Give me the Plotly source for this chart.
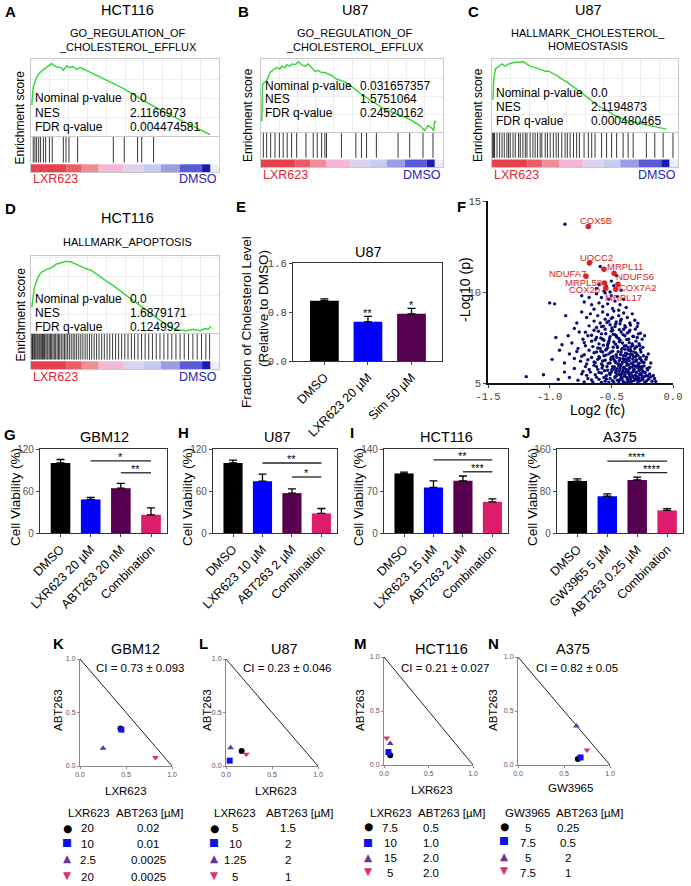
import plotly.graph_objects as go

W, H = 691, 886
FONT = 'Arial, Liberation Sans, sans-serif'
MONO = 'Liberation Mono, Courier New, monospace'

# ---------------- A-D: GSEA enrichment plots ----------------
gsea_cells = ['HCT116', 'U87', 'U87', 'HCT116']
gsea_sets = [['GO_REGULATION_OF', '_CHOLESTEROL_EFFLUX'],
             ['GO_REGULATION_OF', '_CHOLESTEROL_EFFLUX'],
             ['HALLMARK_CHOLESTEROL_', 'HOMEOSTASIS'],
             ['HALLMARK_APOPTOSIS']]
gsea_pval = ['0.0', '0.031657357', '0.0', '0.0']
gsea_nes = ['2.1166973', '1.5751064', '2.1194873', '1.6879171']
gsea_fdr = ['0.004474581', '0.24520162', '0.000480465', '0.124992']

rank_a = [0.004, 0.012, 0.030, 0.048, 0.066, 0.083, 0.101, 0.110, 0.119, 0.128, 0.140, 0.154, 0.163, 0.172,
          0.181, 0.190, 0.199, 0.207, 0.225, 0.243, 0.261, 0.367, 0.491, 0.598, 0.722, 0.828, 0.899, 0.952]
es_a = [0.41, 0.65, 0.78, 0.84, 0.88, 0.91, 0.95, 0.96, 0.94, 0.93, 0.91, 0.91, 0.90, 0.87,
        0.91, 0.93, 0.91, 0.91, 0.92, 0.88, 0.91, 0.78, 0.63, 0.47, 0.30, 0.17, 0.09, 0.02]
hits_a = [0.012, 0.021, 0.030, 0.041, 0.051, 0.066, 0.078, 0.098, 0.113, 0.172, 0.186, 0.202, 0.248,
          0.438, 0.496, 0.567, 0.589, 0.652]

rank_b = [0.004, 0.009, 0.031, 0.049, 0.059, 0.077, 0.086, 0.104, 0.113, 0.132, 0.141, 0.159, 0.168, 0.186,
          0.205, 0.223, 0.241, 0.260, 0.278, 0.296, 0.314, 0.333, 0.351, 0.369, 0.388, 0.415, 0.461, 0.506,
          0.561, 0.616, 0.671, 0.726, 0.762, 0.799, 0.835, 0.872, 0.899, 0.918, 0.936, 0.949, 0.954, 0.963]
es_b = [0.15, 0.67, 0.72, 0.83, 0.85, 0.88, 0.90, 0.88, 0.92, 0.90, 0.94, 0.92, 0.95, 0.94,
        0.98, 0.94, 0.92, 0.95, 0.90, 0.85, 0.86, 0.83, 0.83, 0.81, 0.79, 0.74, 0.70, 0.62,
        0.51, 0.42, 0.33, 0.27, 0.24, 0.20, 0.15, 0.09, 0.02, 0.09, 0.06, 0.02, 0.14, 0.15]
hits_b = [0.013, 0.031, 0.053, 0.077, 0.101, 0.122, 0.144, 0.168, 0.196, 0.247, 0.287, 0.309, 0.333,
          0.351, 0.360, 0.442, 0.521, 0.552, 0.580, 0.634, 0.753, 0.817, 0.890, 0.945]

rank_c = [0.005, 0.009, 0.018, 0.036, 0.054, 0.071, 0.089, 0.116, 0.143, 0.170, 0.188, 0.205, 0.232, 0.259,
          0.286, 0.304, 0.321, 0.348, 0.375, 0.402, 0.438, 0.473, 0.509, 0.545, 0.580, 0.616, 0.652, 0.688,
          0.723, 0.759, 0.795, 0.830, 0.866, 0.902, 0.920, 0.938]
es_c = [0.45, 0.72, 0.88, 0.92, 0.95, 0.92, 0.95, 0.97, 0.98, 0.98, 0.95, 0.92, 0.90, 0.88,
        0.85, 0.85, 0.83, 0.79, 0.74, 0.70, 0.63, 0.56, 0.49, 0.42, 0.35, 0.31, 0.24, 0.20,
        0.16, 0.14, 0.12, 0.10, 0.09, 0.07, 0.06, 0.04]
hits_c = [0.004, 0.007, 0.011, 0.014, 0.027, 0.041, 0.054, 0.066, 0.080, 0.089, 0.098, 0.113, 0.125,
          0.143, 0.152, 0.166, 0.179, 0.188, 0.205, 0.220, 0.232, 0.245, 0.259, 0.268, 0.286, 0.298,
          0.313, 0.330, 0.345, 0.357, 0.375, 0.393, 0.405, 0.420, 0.438, 0.455, 0.470, 0.495, 0.518,
          0.536, 0.554, 0.589, 0.616, 0.643, 0.670, 0.705, 0.732, 0.759, 0.830, 0.875, 0.920, 0.973]

rank_d = [0.004, 0.018, 0.036, 0.053, 0.080, 0.107, 0.133, 0.160, 0.187, 0.214, 0.240, 0.267, 0.294, 0.320,
          0.347, 0.374, 0.400, 0.436, 0.472, 0.507, 0.543, 0.578, 0.614, 0.649, 0.685, 0.721, 0.756, 0.792,
          0.827, 0.863, 0.899, 0.925, 0.943, 0.956]
es_d = [0.34, 0.60, 0.73, 0.80, 0.84, 0.86, 0.91, 0.93, 0.95, 0.94, 0.91, 0.88, 0.85, 0.83,
        0.78, 0.73, 0.69, 0.63, 0.56, 0.50, 0.43, 0.37, 0.30, 0.24, 0.17, 0.11, 0.06, 0.04,
        0.03, 0.05, 0.03, 0.06, 0.05, 0.09]
hits_d = [0.004, 0.008, 0.012, 0.018, 0.022, 0.027, 0.033, 0.038, 0.044, 0.049, 0.055, 0.061, 0.066,
          0.072, 0.079, 0.085, 0.090, 0.097, 0.104, 0.110, 0.117, 0.124, 0.131, 0.139, 0.146, 0.153,
          0.161, 0.170, 0.178, 0.186, 0.195, 0.204, 0.214, 0.224, 0.233, 0.243, 0.254, 0.265, 0.276,
          0.288, 0.299, 0.311, 0.323, 0.336, 0.349, 0.362, 0.376, 0.390, 0.405, 0.419, 0.434, 0.450,
          0.466, 0.482, 0.499, 0.516, 0.534, 0.551, 0.569, 0.588, 0.607, 0.626, 0.646, 0.666, 0.686,
          0.707, 0.728, 0.749, 0.771, 0.793, 0.815, 0.838, 0.861, 0.884, 0.907, 0.930, 0.950]

# ranked-list colour strip (LXR623 -> DMSO)
strip_edges = [0, 0.19, 0.27, 0.36, 0.49, 0.60, 0.69, 0.79, 0.91, 0.955, 1.0]
strip_colors = ['#e8414e', '#ec5c66', '#f08c94', '#f4b8d6', '#dcd2ee', '#c6cbf2',
                '#9c9ce6', '#5a5ad6', '#1a1ab4', '#eeeefa']

# ---------------- E: cholesterol ----------------
chol_cats = ['DMSO', 'LXR623 20 µM', 'Sim 50 µM']
chol_vals = [0.985, 0.64, 0.77]
chol_err = [0.03, 0.09, 0.09]
chol_stars = ['', '**', '*']

# ---------------- F: volcano ----------------
volcano_pts = [
    (-0.62, 9.9), (-0.58, 9.7), (-0.55, 9.95), (-0.52, 9.6), (-0.50, 9.8), (-0.47, 9.5), (-0.45, 9.75),
    (-0.60, 9.4), (-0.66, 9.3), (-0.57, 9.2), (-0.53, 9.35), (-0.49, 9.1), (-0.43, 9.3), (-0.40, 9.6),
    (-0.68, 9.7), (-0.72, 9.45), (-0.51, 10.0), (-0.56, 10.05), (-1.00, 9.4), (-0.96, 9.35), (-0.64, 9.05),
    (-0.44, 9.0), (-0.38, 9.15), (-0.876, 13.72), (-0.59, 11.4), (-0.60, 10.4), (-0.50, 10.6), (-0.46, 10.9),
    (-0.54, 10.3), (-0.62, 10.2), (-0.48, 10.35), (-0.74, 9.8), (-0.42, 10.1),
    (-0.87, 8.7), (-0.74, 8.9), (-0.70, 8.6), (-0.67, 8.8), (-0.64, 8.4), (-0.61, 8.7), (-0.59, 8.3),
    (-0.57, 8.9), (-0.55, 8.5), (-0.53, 8.75), (-0.51, 8.2), (-0.49, 8.6), (-0.48, 8.95), (-0.46, 8.35),
    (-0.44, 8.7), (-0.42, 8.5), (-0.40, 8.85), (-0.39, 8.15), (-0.37, 8.6), (-0.35, 8.3), (-0.33, 8.8),
    (-0.31, 8.45), (-0.62, 8.05), (-0.58, 8.1), (-0.52, 8.4), (-0.47, 8.1), (-0.43, 8.25), (-0.78, 8.3),
    (-0.80, 8.0), (-0.29, 8.1), (-0.50, 8.55),
    (-0.85, 7.6), (-0.82, 7.2), (-0.76, 7.8), (-0.73, 7.4), (-0.71, 7.05), (-0.69, 7.6), (-0.66, 7.3),
    (-0.64, 7.9), (-0.62, 7.5), (-0.60, 7.15), (-0.58, 7.7), (-0.56, 7.35), (-0.55, 7.95), (-0.53, 7.1),
    (-0.51, 7.55), (-0.50, 7.85), (-0.48, 7.25), (-0.47, 7.65), (-0.45, 7.0), (-0.44, 7.45), (-0.42, 7.8),
    (-0.41, 7.2), (-0.39, 7.6), (-0.38, 7.05), (-0.36, 7.4), (-0.35, 7.9), (-0.33, 7.15), (-0.32, 7.55),
    (-0.30, 7.3), (-0.28, 7.7), (-0.27, 7.05), (-0.25, 7.4), (-0.23, 7.6), (-0.90, 7.1), (-0.95, 7.5),
    (-0.65, 7.0), (-0.57, 7.4), (-0.49, 7.9), (-0.43, 7.35), (-0.37, 7.75), (-0.34, 7.0), (-0.29, 7.5),
    (-0.46, 7.6), (-0.40, 7.95), (-0.52, 7.3),
    (-0.98, 6.3), (-0.92, 6.8), (-0.88, 6.1), (-0.84, 6.6), (-0.80, 6.35), (-0.77, 6.9), (-0.75, 6.2),
    (-0.72, 6.55), (-0.70, 6.05), (-0.68, 6.8), (-0.66, 6.4), (-0.64, 6.15), (-0.62, 6.7), (-0.61, 6.3),
    (-0.59, 6.9), (-0.58, 6.05), (-0.56, 6.5), (-0.55, 6.25), (-0.54, 6.85), (-0.52, 6.6), (-0.51, 6.1),
    (-0.50, 6.4), (-0.49, 6.75), (-0.47, 6.2), (-0.46, 6.55), (-0.45, 6.95), (-0.44, 6.05), (-0.43, 6.35),
    (-0.42, 6.7), (-0.41, 6.15), (-0.40, 6.5), (-0.39, 6.85), (-0.38, 6.25), (-0.37, 6.6), (-0.36, 6.0),
    (-0.35, 6.4), (-0.34, 6.75), (-0.33, 6.1), (-0.32, 6.45), (-0.31, 6.9), (-0.30, 6.2), (-0.29, 6.55),
    (-0.28, 6.05), (-0.27, 6.35), (-0.26, 6.7), (-0.25, 6.15), (-0.24, 6.5), (-0.22, 6.3), (-0.20, 6.6),
    (-0.18, 6.1), (-0.48, 6.3), (-0.53, 6.95), (-0.57, 6.7), (-0.60, 6.45), (-0.41, 6.9), (-0.36, 6.8),
    (-0.33, 6.55), (-0.46, 6.1), (-0.39, 6.3), (-0.30, 6.65),
    (-1.19, 5.35), (-1.05, 5.45), (-0.93, 5.2), (-0.88, 5.6), (-0.84, 5.3), (-0.80, 5.8), (-0.77, 5.15),
    (-0.74, 5.5), (-0.71, 5.9), (-0.69, 5.25), (-0.67, 5.6), (-0.65, 5.05), (-0.63, 5.45), (-0.61, 5.75),
    (-0.60, 5.2), (-0.58, 5.55), (-0.57, 5.95), (-0.55, 5.1), (-0.54, 5.4), (-0.53, 5.7), (-0.51, 5.25),
    (-0.50, 5.6), (-0.49, 5.9), (-0.48, 5.05), (-0.47, 5.35), (-0.46, 5.65), (-0.45, 5.15), (-0.44, 5.5),
    (-0.43, 5.8), (-0.42, 5.3), (-0.41, 5.6), (-0.40, 5.0), (-0.39, 5.45), (-0.38, 5.75), (-0.37, 5.2),
    (-0.36, 5.55), (-0.35, 5.85), (-0.34, 5.1), (-0.33, 5.4), (-0.32, 5.7), (-0.31, 5.25), (-0.30, 5.6),
    (-0.29, 5.95), (-0.28, 5.15), (-0.27, 5.45), (-0.26, 5.75), (-0.25, 5.3), (-0.24, 5.6), (-0.23, 5.05),
    (-0.22, 5.4), (-0.21, 5.8), (-0.20, 5.2), (-0.19, 5.5), (-0.18, 5.35), (-0.17, 5.1), (-0.15, 5.25),
    (-0.52, 5.05), (-0.44, 5.95), (-0.36, 5.05), (-0.32, 5.95), (-0.27, 5.9), (-0.40, 5.85), (-0.48, 5.75),
    (-0.56, 5.3), (-0.62, 5.9), (-0.35, 5.35), (-0.29, 5.35), (-0.25, 5.9),
    (-0.58, 5.03), (-0.54, 5.22), (-0.51, 5.47), (-0.49, 5.12), (-0.47, 5.29), (-0.455, 5.41), (-0.44, 5.07),
    (-0.43, 5.18), (-0.425, 5.44), (-0.415, 5.26), (-0.405, 5.11), (-0.395, 5.37), (-0.385, 5.02),
    (-0.375, 5.31), (-0.365, 5.16), (-0.355, 5.48), (-0.345, 5.23), (-0.335, 5.09), (-0.325, 5.33),
    (-0.315, 5.14), (-0.305, 5.42), (-0.295, 5.21), (-0.285, 5.04), (-0.275, 5.28), (-0.265, 5.13),
    (-0.255, 5.46), (-0.245, 5.19), (-0.235, 5.34), (-0.215, 5.11), (-0.205, 5.39), (-0.195, 5.24),
    (-0.16, 5.41), (-0.14, 5.08), (-0.62, 5.31), (-0.66, 5.17), (-0.70, 5.42), (-0.72, 5.06),
    (-0.60, 5.58), (-0.575, 5.82), (-0.555, 5.67), (-0.535, 5.91), (-0.515, 5.53), (-0.495, 5.74),
    (-0.475, 5.88), (-0.465, 5.56), (-0.455, 5.79), (-0.435, 5.66), (-0.425, 5.93), (-0.415, 5.51),
    (-0.405, 5.71), (-0.395, 5.85), (-0.385, 5.59), (-0.375, 5.97), (-0.365, 5.63), (-0.355, 5.78),
    (-0.345, 5.54), (-0.335, 5.87), (-0.325, 5.61), (-0.315, 5.76), (-0.305, 5.92), (-0.295, 5.57),
    (-0.285, 5.83), (-0.275, 5.68), (-0.265, 5.52), (-0.255, 5.81), (-0.245, 5.66), (-0.235, 5.94),
    (-0.225, 5.58), (-0.205, 5.72), (-0.19, 5.86), (-0.68, 5.74), (-0.73, 5.63), (-0.64, 5.97),
    (-0.63, 6.12), (-0.595, 6.38), (-0.57, 6.21), (-0.545, 6.53), (-0.525, 6.08), (-0.505, 6.29),
    (-0.485, 6.46), (-0.465, 6.14), (-0.455, 6.41), (-0.435, 6.23), (-0.425, 6.57), (-0.415, 6.04),
    (-0.405, 6.33), (-0.395, 6.18), (-0.385, 6.49), (-0.375, 6.11), (-0.365, 6.36), (-0.355, 6.22),
    (-0.345, 6.58), (-0.335, 6.07), (-0.325, 6.31), (-0.315, 6.16), (-0.305, 6.44), (-0.295, 6.27),
    (-0.285, 6.52), (-0.275, 6.09), (-0.265, 6.39), (-0.255, 6.24), (-0.235, 6.13), (-0.215, 6.42),
    (-0.74, 6.47), (-0.69, 6.28),
    (-0.64, 6.66), (-0.61, 6.92), (-0.585, 6.74), (-0.565, 7.08), (-0.545, 6.81), (-0.525, 7.19),
    (-0.505, 6.69), (-0.485, 6.97), (-0.465, 7.13), (-0.445, 6.72), (-0.435, 7.27), (-0.415, 6.86),
    (-0.395, 7.03), (-0.385, 6.64), (-0.365, 6.94), (-0.355, 7.21), (-0.345, 6.83), (-0.325, 7.06),
    (-0.315, 6.71), (-0.295, 6.99), (-0.275, 7.16), (-0.265, 6.84), (-0.245, 6.96), (-0.72, 7.22), (-0.78, 6.73),
    (-0.66, 7.62), (-0.63, 7.38), (-0.605, 7.84), (-0.585, 7.47), (-0.565, 8.12), (-0.545, 7.71),
    (-0.535, 8.33), (-0.515, 7.43), (-0.495, 8.02), (-0.485, 7.68), (-0.465, 8.24), (-0.455, 7.51),
    (-0.435, 7.93), (-0.425, 8.41), (-0.405, 7.66), (-0.385, 8.07), (-0.375, 7.39), (-0.355, 7.82),
    (-0.345, 8.18), (-0.325, 7.57), (-0.305, 7.96), (-0.285, 8.28), (-0.265, 7.73), (-0.68, 8.14), (-0.71, 7.79),
]
volcano_fc = [p[0] for p in volcano_pts]
volcano_p = [p[1] for p in volcano_pts]

hit_genes = ['COX5B', 'UQCC2', 'MRPL11', 'NDUFA7', 'NDUFS6', 'MRPL58', 'COX7A2', 'COX20', 'MRPL17']
hit_fc = [-0.687, -0.678, -0.560, -0.705, -0.478, -0.557, -0.446, -0.545, -0.464]
hit_p = [13.6, 11.59, 11.25, 10.86, 11.03, 10.49, 10.42, 10.2, 10.15]
# label offsets in px (dx right, dy down)
hit_dx = [8, 7, 21, -19, 21, -21, 20, -21, 8]
hit_dy = [-6, -6, -3, -3, 3, -1, 3, 1, 8]

# ---------------- G-J: viability ----------------
via_titles = ['GBM12', 'U87', 'HCT116', 'A375']
via_cats = [['DMSO', 'LXR623 20 µM', 'ABT263 20 nM', 'Combination'],
            ['DMSO', 'LXR623 10 µM', 'ABT263 2 µM', 'Combination'],
            ['DMSO', 'LXR623 15 µM', 'ABT263 2 µM', 'Combination'],
            ['DMSO', 'GW3965 5 µM', 'ABT263 0.25 µM', 'Combination']]
via_vals = [[100, 48, 64, 26], [100, 74, 57, 28], [99, 76, 87, 52], [99, 70, 101, 43]]
via_err = [[5, 3, 7, 10], [4, 10, 6, 7], [2.5, 11, 8, 5], [4, 4.5, 5.5, 3.5]]
via_ymax = [120, 120, 140, 160]
via_sig = [[(1, 3, 103, '*'), (2, 3, 86, '**')],
           [(1, 3, 100, '**'), (2, 3, 80, '*')],
           [(1, 3, 122, '**'), (2, 3, 102, '***')],
           [(1, 3, 137, '****'), (2, 3, 115, '****')]]
bar_colors = ['#000000', '#0000ff', '#560050', '#dc1c6c']

# ---------------- K-N: isobolograms ----------------
iso_titles = ['GBM12', 'U87', 'HCT116', 'A375']
iso_ci = ['CI = 0.73 ± 0.093', 'CI = 0.23 ± 0.046', 'CI = 0.21 ± 0.027', 'CI = 0.82 ± 0.05']
iso_drug = ['LXR623', 'LXR623', 'LXR623', 'GW3965']
iso_x = [[0.44, 0.45, 0.25, 0.82], [0.17, 0.04, 0.05, 0.22], [0.07, 0.05, 0.07, 0.03], [0.65, 0.68, 0.635, 0.75]]
iso_y = [[0.35, 0.34, 0.165, 0.08], [0.14, 0.05, 0.17, 0.11], [0.09, 0.12, 0.20, 0.25], [0.055, 0.07, 0.36, 0.14]]
iso_dose1 = [['20', '10', '2.5', '20'], ['5', '10', '1.25', '5'], ['7.5', '10', '15', '5'], ['5', '7.5', '5', '7.5']]
iso_dose2 = [['0.02', '0.01', '0.0025', '0.0025'], ['1.5', '2', '2', '1'], ['0.5', '1.0', '2.0', '2.0'],
             ['0.25', '0.5', '2', '1']]
isobole_x = [0, 1]
isobole_y = [1, 0]
iso_symbols = ['circle', 'square', 'triangle-up', 'triangle-down']
iso_glyphs = ['●', '■', '▲', '▼']
iso_colors = ['#000000', '#1010e8', '#6a3496', '#e0306e']

fig = go.Figure()
annots = []
axis_count = [0]


def new_axes(x0, x1, y0, y1, xa, ya):
    axis_count[0] += 1
    n = axis_count[0]
    s = '' if n == 1 else str(n)
    xa = dict(xa, domain=[x0 / W, x1 / W], anchor='y' + s, automargin=False)
    ya = dict(ya, domain=[1 - y1 / H, 1 - y0 / H], anchor='x' + s, automargin=False)
    fig.update_layout(**{'xaxis' + s: xa, 'yaxis' + s: ya})
    return 'x' + s, 'y' + s


def txt(s, x, y, size=12, color='black', xanchor='center', yanchor='middle', angle=0, family=FONT):
    annots.append(dict(text=s, x=x / W, y=1 - y / H, xref='paper', yref='paper', showarrow=False,
                       font=dict(size=size, color=color, family=family), xanchor=xanchor,
                       yanchor=yanchor, textangle=angle, borderpad=0))


def letter(s, x, y):
    txt('<b>' + s + '</b>', x, y, size=15)


# ---- GSEA panels ----
gsea_data = [(rank_a, es_a, hits_a), (rank_b, es_b, hits_b), (rank_c, es_c, hits_c), (rank_d, es_d, hits_d)]
gsea_layout = [
    dict(x0=31, x1=219, top=59, es=136, bot=172, rows=[98, 113, 127], let=(10, 11), ty=10, sy=[33, 47], ly=179, yx=20),
    dict(x0=261, x1=443, top=59, es=132, bot=167, rows=[86, 99, 113], let=(243, 11), ty=10, sy=[33, 47], ly=175, yx=248),
    dict(x0=492, x1=678, top=59, es=132, bot=167, rows=[93, 107, 121], let=(473, 11), ty=10, sy=[33, 46], ly=175, yx=478),
    dict(x0=31, x1=219, top=256, es=333, bot=369, rows=[299, 313, 327], let=(10, 208), ty=218, sy=[242], ly=377, yx=20),
]
frame_gray = '#c8c8c8'
for i, (rk, es, hits) in enumerate(gsea_data):
    L = gsea_layout[i]
    xr, yr = new_axes(L['x0'], L['x1'], L['top'], L['es'],
                      dict(range=[0, 1], showgrid=True, gridcolor='#eeeeee', dtick=0.1, showticklabels=False,
                           ticks='', zeroline=False, showline=True, mirror=True, linecolor=frame_gray),
                      dict(range=[0, 1.02], showgrid=True, gridcolor='#eeeeee', dtick=0.25, showticklabels=False,
                           ticks='', zeroline=False, showline=True, mirror=True, linecolor=frame_gray))
    fig.add_trace(go.Scatter(x=rk, y=es, mode='lines', line=dict(color='#3ad83a', width=1.5),
                             xaxis=xr, yaxis=yr, hoverinfo='skip'))
    xr2, yr2 = new_axes(L['x0'], L['x1'], L['es'] + 1, L['bot'],
                        dict(range=[0, 1], showgrid=False, showticklabels=False, ticks='', zeroline=False,
                             showline=True, mirror=True, linecolor=frame_gray),
                        dict(range=[0, 1], showgrid=False, showticklabels=False, ticks='', zeroline=False,
                             showline=True, mirror=True, linecolor=frame_gray))
    hx, hy = [], []
    for h in hits:
        hx += [h, h, None]
        hy += [0.27, 1.0, None]
    fig.add_trace(go.Scatter(x=hx, y=hy, mode='lines', line=dict(color='#222222', width=0.9),
                             xaxis=xr2, yaxis=yr2, hoverinfo='skip'))
    starts = strip_edges[:-1]
    widths = [b - a for a, b in zip(strip_edges[:-1], strip_edges[1:])]
    fig.add_trace(go.Bar(x=widths, base=starts, y=[0.11] * len(widths), orientation='h', width=0.22,
                         marker=dict(color=strip_colors, line=dict(width=0)), xaxis=xr2, yaxis=yr2,
                         hoverinfo='skip'))
    cx = (L['x0'] + L['x1']) / 2 + 3
    letter('ABCD'[i], *L['let'])
    txt(gsea_cells[i], cx, L['ty'], size=14.5)
    for line, yy in zip(gsea_sets[i], L['sy']):
        txt(line, cx, yy, size=11)
    labels = ['Nominal p-value', 'NES', 'FDR q-value']
    vals = [gsea_pval[i], gsea_nes[i], gsea_fdr[i]]
    for lab, v, yy in zip(labels, vals, L['rows']):
        txt(lab, L['x0'] + 3, yy, size=12, xanchor='left')
        txt(v, L['x0'] + 98, yy, size=12, xanchor='left')
    txt('LXR623', L['x0'] + 1, L['ly'], size=12.5, color='#e3242f', xanchor='left')
    txt('DMSO', L['x1'] - 1, L['ly'], size=12.5, color='#2323b4', xanchor='right')
    txt('Enrichment score', L['yx'], (L['top'] + L['bot']) / 2 + 2, size=12, angle=-90)

# ---- E: cholesterol bars ----
xr, yr = new_axes(293, 442, 263, 361,
                  dict(type='category', range=[-0.72, 2.7], showline=True, mirror=True, linecolor='#333',
                       linewidth=1.3, ticks='outside', ticklen=3, tickangle=-45,
                       tickfont=dict(size=12.5, family=FONT, color='black'), showgrid=False),
                  dict(range=[0, 1.6], tickvals=[0, 0.8, 1.6], ticktext=['0.0', '0.8', '1.6'], showline=True,
                       mirror=True, linecolor='#333', linewidth=1.3, ticks='outside', ticklen=3,
                       tickfont=dict(size=10.5, family=MONO, color='#444'), showgrid=False, zeroline=False))
fig.add_trace(go.Bar(x=chol_cats, y=chol_vals, width=0.66, marker=dict(color=bar_colors[:3], line=dict(width=0)),
                     error_y=dict(type='data', array=chol_err, arrayminus=[0] * 3, symmetric=False,
                                  color='black', thickness=1.3, width=4),
                     xaxis=xr, yaxis=yr, hoverinfo='skip'))
for c, v, e, s in zip(chol_cats, chol_vals, chol_err, chol_stars):
    if s:
        annots.append(dict(text=s, x=c, y=v + e, xref=xr, yref=yr, showarrow=False, yanchor='bottom',
                           yshift=-5, font=dict(size=11, family=FONT, color='black')))
letter('E', 241, 207)
txt('U87', 368, 252, size=14.5)
txt('Fraction of Cholesterol Level', 247, 322, size=13.5, angle=-90)
txt('(Relative to DMSO)', 263, 309, size=13.5, angle=-90)

# ---- F: volcano ----
xr, yr = new_axes(488, 673, 201, 383,
                  dict(range=[-1.5, 0.0], tickvals=[-1.5, -1.0, -0.5, 0.0], ticktext=['-1.5', '-1.0', '-0.5', '0.0'],
                       showline=True, linecolor='#111', linewidth=1.5, ticks='outside', ticklen=3,
                       tickfont=dict(size=10.5, family=MONO, color='#444'), showgrid=False, zeroline=False),
                  dict(range=[5, 15], tickvals=[5, 10, 15], showline=True, linecolor='#111', linewidth=1.5,
                       ticks='outside', ticklen=3, tickfont=dict(size=10.5, family=MONO, color='#444'),
                       showgrid=False, zeroline=False))
fig.add_trace(go.Scatter(x=volcano_fc, y=volcano_p, mode='markers', marker=dict(size=3.4, color='#0a0a78'),
                         cliponaxis=False, xaxis=xr, yaxis=yr, hoverinfo='skip'))
fig.add_trace(go.Scatter(x=hit_fc, y=hit_p, mode='markers', marker=dict(size=5.5, color='#de2020'),
                         xaxis=xr, yaxis=yr, hoverinfo='skip'))
for g, fx, fy, dx, dy in zip(hit_genes, hit_fc, hit_p, hit_dx, hit_dy):
    annots.append(dict(text=g, x=fx, y=fy, xref=xr, yref=yr, showarrow=False, xshift=dx, yshift=-dy,
                       font=dict(size=9.5, family=FONT, color='#de2020')))
letter('F', 461, 207)
txt('-Log10 (p)', 465, 290, size=14, angle=-90)
txt('Log2 (fc)', 597, 410, size=14)

# ---- G-J: viability bars ----
via_frames = [(40, 167), (213, 337), (384, 508), (557, 683)]
via_letters = [('G', 10, 434), ('H', 183, 433), ('I', 352, 433), ('J', 526, 433)]
via_title_x = [104, 277, 447, 620]
via_ytitle_x = [15, 187, 358, 532]
for i in range(4):
    x0, x1 = via_frames[i]
    ym = via_ymax[i]
    xr, yr = new_axes(x0, x1, 449, 533,
                      dict(type='category', range=[-0.68, 3.53], showline=True, mirror=True, linecolor='#333',
                           linewidth=1.3, ticks='outside', ticklen=3, tickangle=-45,
                           tickfont=dict(size=12.5, family=FONT, color='black'), showgrid=False),
                      dict(range=[0, ym], tickvals=[0, ym / 2, ym], showline=True, mirror=True, linecolor='#333',
                           linewidth=1.3, ticks='outside', ticklen=3,
                           tickfont=dict(size=10, family=FONT, color='#555'), showgrid=False, zeroline=False))
    fig.add_trace(go.Bar(x=via_cats[i], y=via_vals[i], width=0.65,
                         marker=dict(color=bar_colors, line=dict(width=0)),
                         error_y=dict(type='data', array=via_err[i], arrayminus=[0] * 4, symmetric=False,
                                      color='black', thickness=1.3, width=4),
                         xaxis=xr, yaxis=yr, hoverinfo='skip'))
    for a, b, h, s in via_sig[i]:
        fig.add_trace(go.Scatter(x=[via_cats[i][a], via_cats[i][b]], y=[h, h], mode='lines',
                                 line=dict(color='#222', width=1.3), xaxis=xr, yaxis=yr, hoverinfo='skip'))
        annots.append(dict(text=s, x=(a + b) / 2, y=h, xref=xr, yref=yr, showarrow=False, yanchor='bottom',
                           yshift=-4, font=dict(size=11, family=FONT, color='black')))
    letter(*via_letters[i])
    txt(via_titles[i], via_title_x[i], 437, size=14.5)
    txt('Cell Viability (%)', via_ytitle_x[i], 497, size=13.5, angle=-90)

# ---- K-N: isobolograms ----
iso_frames = [(80, 172, 659, 766), (226, 318, 659, 766), (384, 473, 657, 765), (518, 610, 657, 765)]
iso_letters = [('K', 58, 643), ('L', 203, 643), ('M', 360, 643), ('N', 493, 643)]
iso_title_x = [135, 284, 442, 573]
iso_ci_x = [140, 287, 445, 577]
iso_xt = [(126, 791), (276, 791), (432, 790), (570, 788)]
iso_yt_x = [58, 207, 360, 493]
iso_leg = [
    dict(sx=67, c1=88, c2=148, h1=89, h2=149, srows=[828, 842, 858, 875], rows=[828, 844, 860, 877]),
    dict(sx=214, c1=235, c2=288, h1=235, h2=299, srows=[828, 842, 858, 875], rows=[828, 844, 860, 877]),
    dict(sx=368, c1=390, c2=431, h1=391, h2=452, srows=[826, 842, 857, 871], rows=[828, 843, 858, 873]),
    dict(sx=504, c1=528, c2=568, h1=527, h2=589, srows=[826, 840, 856, 870], rows=[828, 843, 858, 873]),
]
for i in range(4):
    x0, x1, y0, y1 = iso_frames[i]
    axcommon = dict(range=[0, 1], tickvals=[0, 0.5, 1], ticktext=['0.0', '0.5', '1.0'], showline=True,
                    linecolor='#888', linewidth=1, ticks='outside', ticklen=2, tickcolor='#888',
                    tickfont=dict(size=7, family=FONT, color='#555'), showgrid=False, zeroline=False)
    xr, yr = new_axes(x0, x1, y0, y1, dict(axcommon), dict(axcommon))
    fig.add_trace(go.Scatter(x=isobole_x, y=isobole_y, mode='lines', line=dict(color='#222', width=1),
                             xaxis=xr, yaxis=yr, hoverinfo='skip'))
    fig.add_trace(go.Scatter(x=iso_x[i], y=iso_y[i], mode='markers', cliponaxis=False,
                             marker=dict(size=6, symbol=iso_symbols, color=iso_colors),
                             xaxis=xr, yaxis=yr, hoverinfo='skip'))
    letter(*iso_letters[i])
    txt(iso_titles[i], iso_title_x[i], 649, size=14.5)
    txt(iso_ci[i], iso_ci_x[i], 668, size=11.5)
    txt(iso_drug[i], iso_xt[i][0], iso_xt[i][1], size=11.5)
    txt('ABT263', iso_yt_x[i], 710, size=11.5, angle=-90)
    lg = iso_leg[i]
    txt(iso_drug[i], lg['h1'], 813, size=11.5)
    txt('ABT263 [µM]', lg['h2'], 813, size=11.5)
    for k in range(4):
        txt(iso_glyphs[k], lg['sx'], lg['srows'][k], size=10.5, color=iso_colors[k], family='DejaVu Sans')
        txt(iso_dose1[i][k], lg['c1'], lg['rows'][k], size=11.5)
        txt(iso_dose2[i][k], lg['c2'], lg['rows'][k], size=11.5)

fig.update_layout(width=W, height=H, margin=dict(l=0, r=0, t=0, b=0, pad=0, autoexpand=False),
                  showlegend=False, barmode='overlay',
                  plot_bgcolor='white', paper_bgcolor='white', annotations=annots,
                  font=dict(family=FONT))
# the page body has a default 8px margin; drop it so the figure sits at the window's corner
fig.write_html('out.html', config={'displayModeBar': False},
               post_script="document.body.style.margin = '0';")
